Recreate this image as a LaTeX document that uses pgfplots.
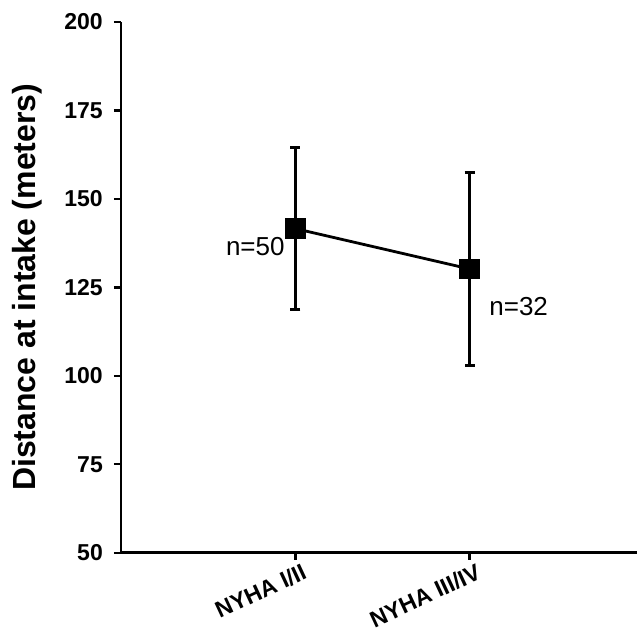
\documentclass[border=0pt]{standalone}
\usepackage{fontspec}
\setmainfont{Liberation Sans}
\usepackage{pgfplots}
\pgfplotsset{compat=1.18}

\begin{document}
\begin{tikzpicture}
\begin{axis}[
    scale only axis,
    width=516pt, height=530.7pt,
    xmin=0, xmax=2.96,
    ymin=50, ymax=200,
    axis lines=left,
    axis line style={-, line width=2.8pt},
    xtick={1,2},
    xticklabels={NYHA I/II, NYHA III/IV},
    ytick={50,75,...,200},
    tick align=outside,
    major tick length=7pt,
    tick style={line width=2.4pt, black},
    /pgf/number format/assume math mode=true,
    yticklabel style={font=\fontsize{23}{25}\selectfont\bfseries, inner sep=1pt, xshift=-10pt},
    xticklabel style={font=\fontsize{23}{25}\selectfont\bfseries, rotate=25, anchor=north east, inner sep=0pt, xshift=4pt, yshift=-5pt},
    ylabel={Distance at intake (meters)},
    every axis y label/.style={at={(axis description cs:0,0.5)}, xshift=-94pt, rotate=90, anchor=center, font=\fontsize{32}{34}\selectfont\bfseries},
    clip=false,
]
\addplot[black, line width=2.8pt, mark=square*, mark size=9pt,
    error bars/.cd, y dir=both, y explicit,
    error bar style={line width=3pt},
    error mark=-,
    error mark options={rotate=90, mark size=5pt, line width=3pt, black}]
  coordinates {
    (1,141.6) +- (0,23.0)
    (2,130.2) +- (0,27.4)
  };
\node[font=\fontsize{26}{28}\selectfont] at (axis cs:1,141.6) [xshift=-40pt, yshift=-18pt] {n=50};
\node[font=\fontsize{26}{28}\selectfont] at (axis cs:2,130.2) [xshift=49pt, yshift=-38pt] {n=32};
\end{axis}
\pgfresetboundingbox
\path ([shift={(-121pt,-82.3pt)}]current axis.south west) rectangle ([shift={(0pt,22pt)}]current axis.north east);
\end{tikzpicture}
\end{document}
